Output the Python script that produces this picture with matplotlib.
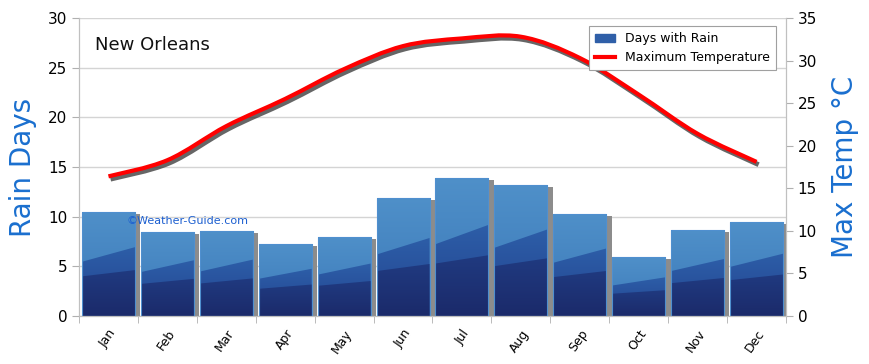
import numpy as np
import matplotlib
matplotlib.use("Agg")
import matplotlib.pyplot as plt
from matplotlib.patches import Rectangle, PathPatch, Polygon
from matplotlib.path import Path
from matplotlib.lines import Line2D
import matplotlib.patheffects as pe
from matplotlib.colors import LinearSegmentedColormap

months = ["Jan", "Feb", "Mar", "Apr", "May", "Jun", "Jul", "Aug", "Sep", "Oct", "Nov", "Dec"]
rain_days = [10.5, 8.5, 8.6, 7.2, 8.0, 11.9, 13.9, 13.2, 10.3, 5.9, 8.7, 9.5]
max_temp = [16.4, 18.3, 22.3, 25.5, 29.0, 31.7, 32.6, 32.8, 30.3, 26.0, 21.4, 18.1]
left_ticks = [0, 5, 10, 15, 20, 25, 30]
right_ticks = [0, 5, 10, 15, 20, 25, 30, 35]

plt.rcParams['font.family'] = ['DejaVu Sans']
fig = plt.figure(figsize=(8.7, 3.64), dpi=100)
ax = fig.add_axes([79/870, 48/364, 707/870, 298/364])
ax2 = ax.twinx()

x = np.arange(len(months))
ax.set_xlim(-0.5, 11.5)
ax.set_ylim(0, 30)
ax2.set_ylim(0, 35)

for t in left_ticks:
    ax.axhline(t, color="#d4d4d4", lw=1, zorder=0)

grad = np.linspace(0, 1, 256).reshape(-1, 1)
cm_top = LinearSegmentedColormap.from_list("t", ["#3b78b8", "#4f90c9"])
cm_mid = LinearSegmentedColormap.from_list("m", ["#22428e", "#2d5ea8"])
cm_low = LinearSegmentedColormap.from_list("l", ["#1b2a6a", "#203a80"])
w = 0.90
for xi, h in zip(x, rain_days):
    x0, x1 = xi - w/2, xi + w/2
    ax.add_patch(Rectangle((x0 + 0.09, 0), w, h - 0.2, facecolor="#8c8c8c", edgecolor="none", zorder=1))
    rect = Rectangle((x0, 0), w, h, facecolor="none", edgecolor="#4f8fcf", lw=0.8, zorder=4)
    ax.add_patch(rect)
    im = ax.imshow(grad, extent=(x0, x1, 0, h), origin="lower", cmap=cm_top,
                   aspect="auto", zorder=2, interpolation="bilinear")
    im.set_clip_path(rect)
    mid = Polygon([(x0, 0), (x1, 0), (x1, h*0.66), (x0, h*0.52)], closed=True, facecolor="none", edgecolor="none")
    ax.add_patch(mid)
    im2 = ax.imshow(grad, extent=(x0, x1, 0, h*0.66), origin="lower", cmap=cm_mid,
                    aspect="auto", zorder=2.2, interpolation="bilinear")
    im2.set_clip_path(mid)
    low = Polygon([(x0, 0), (x1, 0), (x1, h*0.44), (x0, h*0.38)], closed=True, facecolor="none", edgecolor="none")
    ax.add_patch(low)
    im3 = ax.imshow(grad, extent=(x0, x1, 0, h*0.44), origin="lower", cmap=cm_low,
                    aspect="auto", zorder=2.4, interpolation="bilinear")
    im3.set_clip_path(low)
ax.set_xlim(-0.5, 11.5)
ax.set_ylim(0, 30)

# smooth temperature curve (Catmull-Rom as Bezier)
xs = list(x.astype(float)); ys = list(max_temp)
verts = [(xs[0], ys[0])]; codes = [Path.MOVETO]
n = len(xs)
for i in range(n - 1):
    p0 = (xs[max(i-1, 0)], ys[max(i-1, 0)])
    p1 = (xs[i], ys[i]); p2 = (xs[i+1], ys[i+1])
    p3 = (xs[min(i+2, n-1)], ys[min(i+2, n-1)])
    c1 = (p1[0] + (p2[0]-p0[0])/6, p1[1] + (p2[1]-p0[1])/6)
    c2 = (p2[0] - (p3[0]-p1[0])/6, p2[1] - (p3[1]-p1[1])/6)
    verts += [c1, c2, p2]; codes += [Path.CURVE4]*3
path = Path(verts, codes)
pp = PathPatch(path, facecolor="none", edgecolor="#ff0000", lw=3, capstyle="butt", zorder=5,
               path_effects=[pe.SimpleLineShadow(offset=(1.5, -2), shadow_color="#333333", alpha=0.75, linewidth=3.5), pe.Normal()])
ax2.add_patch(pp)

ax.set_xticks(x)
ax.set_xticklabels(months, rotation=55, ha="right", rotation_mode="anchor", fontsize=9)
ax.set_xticks(np.arange(-0.5, 12, 1), minor=True)
ax.tick_params(axis="x", which="major", length=0, pad=8)
ax.tick_params(axis="x", which="minor", length=5, color="#b0b0b0")
ax.set_yticks(left_ticks)
ax.tick_params(axis="y", length=5, color="#b0b0b0", labelsize=11)
ax2.set_yticks(right_ticks)
ax2.tick_params(axis="y", length=5, color="#b0b0b0", labelsize=11)
for a in (ax, ax2):
    a.spines["top"].set_visible(False)
    for s in ["left", "right", "bottom"]:
        a.spines[s].set_color("#c0c0c0")

ax.set_ylabel("Rain Days", color="#1a6fcf", fontsize=20, labelpad=8)
ax2.set_ylabel("Max Temp °C", color="#1a6fcf", fontsize=20, labelpad=10)

ax.text(0.022, 0.91, "New Orleans", transform=ax.transAxes, fontsize=13, color="#111111", va="center")
ax.text(0.067, 0.318, "©Weather-Guide.com", transform=ax.transAxes, fontsize=8, color="#1c5fd0", va="center", zorder=6)

handles = [Rectangle((0, 0), 1, 1, facecolor="#2f5fa8", edgecolor="#2f5fa8"),
           Line2D([0], [0], color="#ff0000", lw=3)]
leg = ax2.legend(handles, ["Days with Rain", "Maximum Temperature"], loc="upper right",
                 bbox_to_anchor=(0.995, 0.995), fontsize=9, fancybox=False, framealpha=1,
                 edgecolor="#a0a0a0", handlelength=1.6, handleheight=0.6, borderpad=0.5, labelspacing=0.5)
leg.get_frame().set_linewidth(0.8)
leg.set_zorder(10)

fig.savefig("out.png", dpi=100)
